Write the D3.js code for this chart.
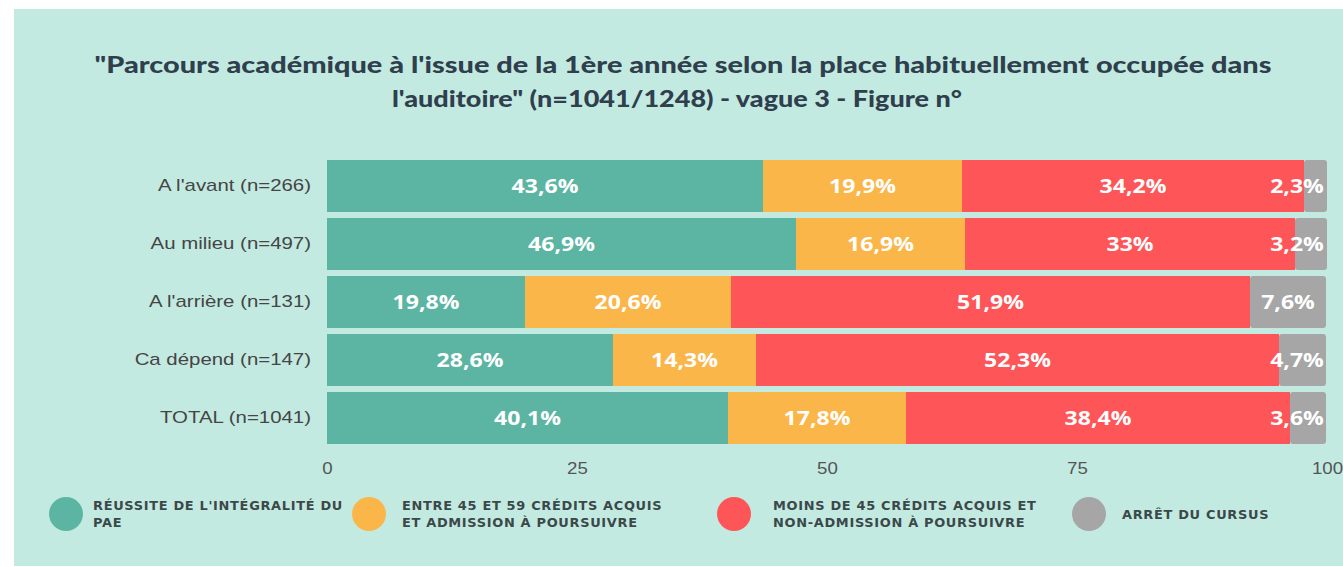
<!DOCTYPE html>
<html>
<head>
<meta charset="utf-8">
<script src="https://cdn.jsdelivr.net/npm/d3@7"></script>
<style>
  body { margin: 0; background: #fff; }
  svg { display: block; }
</style>
</head>
<body>
<svg id="chart" width="1343" height="567"></svg>
<script>
// data
const categories = ["A l'avant (n=266)", "Au milieu (n=497)", "A l'arrière (n=131)", "Ca dépend (n=147)", "TOTAL (n=1041)"];
const seriesNames = ["RÉUSSITE DE L'INTÉGRALITÉ DU|PAE", "ENTRE 45 ET 59 CRÉDITS ACQUIS|ET ADMISSION À POURSUIVRE", "MOINS DE 45 CRÉDITS ACQUIS ET|NON-ADMISSION À POURSUIVRE", "ARRÊT DU CURSUS"];
const reussite = [43.6, 46.9, 19.8, 28.6, 40.1];
const entre45 = [19.9, 16.9, 20.6, 14.3, 17.8];
const moins45 = [34.2, 33, 51.9, 52.3, 38.4];
const arret = [2.3, 3.2, 7.6, 4.7, 3.6];
const ticks = [0, 25, 50, 75, 100];
const colors = ["#5cb5a3", "#fbb64a", "#fd5558", "#a6a6a6"];

const series = [reussite, entre45, moins45, arret];

const svg = d3.select('#chart');

// the source picture is a bit wider than tall, so text gets stretched sideways
function stretch(sel, k) {
  sel.each(function() {
    const w = this.getComputedTextLength();
    d3.select(this).attr('textLength', w * k).attr('lengthAdjust', 'spacingAndGlyphs');
  });
}

// mint panel
svg.append('rect').attr('x', 14).attr('y', 9).attr('width', 1343 - 14).attr('height', 557)
  .attr('fill', '#c3eae1');

// title, two lines
const titleLines = ['"Parcours académique à l\'issue de la 1ère année selon la place habituellement occupée dans',
  'l\'auditoire" (n=1041/1248) - vague 3 - Figure n°'];
const titleWidths = [1177, 570];
svg.selectAll('.title').data(titleLines).enter().append('text')
  .attr('class', 'title')
  .attr('x', (d, i) => i ? 677 : 683)
  .attr('y', (d, i) => 73 + i * 34)
  .attr('text-anchor', 'middle')
  .attr('font-family', 'Lato, sans-serif')
  .attr('font-weight', 900)
  .attr('font-size', 23)
  .attr('fill', '#2f3f4d')
  .attr('textLength', (d, i) => titleWidths[i])
  .attr('lengthAdjust', 'spacingAndGlyphs')
  .text(d => d);

const x = d3.scaleLinear().domain([0, 100]).range([327, 1327]);
const y = d3.scaleBand().domain(categories).range([157, 447])
  .paddingInner(6 / 58).paddingOuter(3 / 58);

// stacked layout
const rows = categories.map((c, i) => {
  const r = { cat: c };
  series.forEach((s, j) => r['s' + j] = s[i]);
  return r;
});
const stack = d3.stack().keys(series.map((s, j) => 's' + j))(rows);

const g = svg.append('g');
stack.forEach((layer, j) => {
  g.selectAll('.seg' + j)
    .data(layer)
    .enter().append('rect')
    .attr('x', d => x(d[0]))
    .attr('y', (d, i) => y(categories[i]))
    .attr('width', d => x(d[1]) - x(d[0]))
    .attr('height', y.bandwidth())
    .attr('rx', j == 3 ? 3 : 0)
    .attr('fill', colors[j]);
});

// value labels
stack.forEach((layer, j) => {
  const labs = g.selectAll('.lab' + j)
    .data(layer)
    .enter().append('text')
    .attr('x', d => Math.min((x(d[0]) + x(d[1])) / 2, x(100) - 30))
    .attr('y', (d, i) => y(categories[i]) + y.bandwidth() / 2)
    .attr('dy', '0.36em')
    .attr('text-anchor', 'middle')
    .attr('font-family', '"Open Sans", sans-serif')
    .attr('font-weight', 700)
    .attr('font-size', 20)
    .attr('fill', '#fff')
    .text(d => String(+(d[1] - d[0]).toFixed(1)).replace('.', ',') + '%');
  stretch(labs, 1.15);
});

// category axis
const yAxis = svg.append('g')
  .attr('transform', 'translate(327,0)')
  .call(d3.axisLeft(y).tickSize(0).tickPadding(16));
yAxis.select('.domain').remove();
yAxis.selectAll('text')
  .attr('font-family', '"Liberation Sans", Arial, sans-serif')
  .attr('font-size', 17)
  .attr('fill', '#454545')
  .call(stretch, 1.2);

// value axis
const xAxis = svg.append('g')
  .attr('transform', 'translate(0,447)')
  .call(d3.axisBottom(x).tickValues(ticks).tickSize(0).tickPadding(15));
xAxis.select('.domain').remove();
xAxis.selectAll('text')
  .attr('font-family', '"Liberation Sans", Arial, sans-serif')
  .attr('font-size', 17)
  .attr('fill', '#555')
  .call(stretch, 1.1);

// legend
const legendX = [66, 369, 734, 1089];
const legendTextX = [93, 402, 773, 1122];
const legend = svg.append('g').selectAll('g')
  .data(seriesNames)
  .enter().append('g')
  .attr('transform', (d, i) => `translate(${legendX[i]},514)`);
legend.append('circle').attr('r', 17).attr('fill', (d, i) => colors[i]);
legend.each(function(d, i) {
  const lines = d.split('|');
  d3.select(this).selectAll('text').data(lines).enter().append('text')
    .attr('x', legendTextX[i] - legendX[i])
    .attr('y', (l, k) => (k - (lines.length - 1) / 2) * 17 + 4.5)
    .attr('font-family', '"DejaVu Sans", sans-serif')
    .attr('font-weight', 700)
    .attr('font-size', 11.5)
    .attr('letter-spacing', 0.6)
    .attr('fill', '#3b4849')
    .text(l => l);
});
// fit legend widths to the first label (about 250px wide in the picture)
const firstW = legend.select('text').node().getComputedTextLength();
legend.selectAll('text').call(stretch, 250 / firstW);
</script>
</body>
</html>
